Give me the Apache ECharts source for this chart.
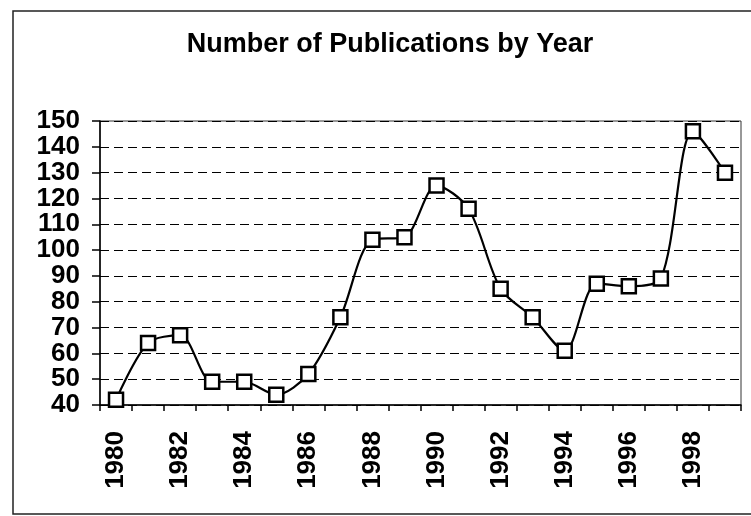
<!DOCTYPE html>
<html>
<head>
<meta charset="utf-8">
<script src="https://cdn.jsdelivr.net/npm/echarts@6/dist/echarts.min.js"></script>
<style>
html,body{margin:0;padding:0;background:#fff;}
#c{width:751px;height:516px;}
</style>
</head>
<body>
<div id="c"></div>
<script>
const titleText = 'Number of Publications by Year';
const years = ['1980','1981','1982','1983','1984','1985','1986','1987','1988','1989',
               '1990','1991','1992','1993','1994','1995','1996','1997','1998','1999'];
const publications = [42,64,67,49,49,44,52,74,104,105,125,116,85,74,61,87,86,89,146,130];
const yMin = 40, yMax = 150, yStep = 10;

const FONT = '"Liberation Sans", Arial, sans-serif';
const chart = echarts.init(document.getElementById('c'), null, {renderer:'canvas'});
chart.setOption({
  backgroundColor: '#fff',
  animation: false,
  title: {
    text: titleText,
    left: 385,
    top: 26,
    textAlign: 'center',
    textStyle: {fontFamily: FONT, fontWeight: 'bold', fontSize: 27, color: '#000'}
  },
  graphic: [{
    type: 'rect',
    shape: {x: 13, y: 11, width: 745, height: 503},
    style: {fill: 'none', stroke: '#222', lineWidth: 1.5},
    silent: true
  }],
  grid: {
    left: 100, top: 121, width: 641, height: 284,
    show: true, borderColor: '#333', borderWidth: 1, backgroundColor: 'transparent'
  },
  xAxis: {
    type: 'category',
    data: years,
    boundaryGap: true,
    axisLine: {lineStyle: {color: '#000', width: 1.5}},
    axisTick: {show: true, interval: 0, length: 6, lineStyle: {color: '#000', width: 1.5}},
    axisLabel: {
      interval: 1, rotate: 90, margin: 26,
      fontFamily: FONT, fontWeight: 'bold', fontSize: 26, color: '#000'
    },
    splitLine: {show: false}
  },
  yAxis: {
    type: 'value',
    min: yMin, max: yMax, interval: yStep,
    axisLine: {show: true, lineStyle: {color: '#000', width: 1.5}},
    axisTick: {show: true, length: 8, lineStyle: {color: '#000', width: 1.5}},
    axisLabel: {margin: 20, fontFamily: FONT, fontWeight: 'bold', fontSize: 26, color: '#000'},
    splitLine: {show: true, lineStyle: {color: '#000', width: 1, type: [9, 5]}}
  },
  series: [{
    type: 'line',
    data: publications,
    smooth: 0.3,
    symbol: 'rect',
    symbolSize: 14,
    lineStyle: {color: '#000', width: 2.2},
    itemStyle: {color: '#fff', borderColor: '#000', borderWidth: 2.5},
    z: 5
  }]
});
</script>
</body>
</html>
